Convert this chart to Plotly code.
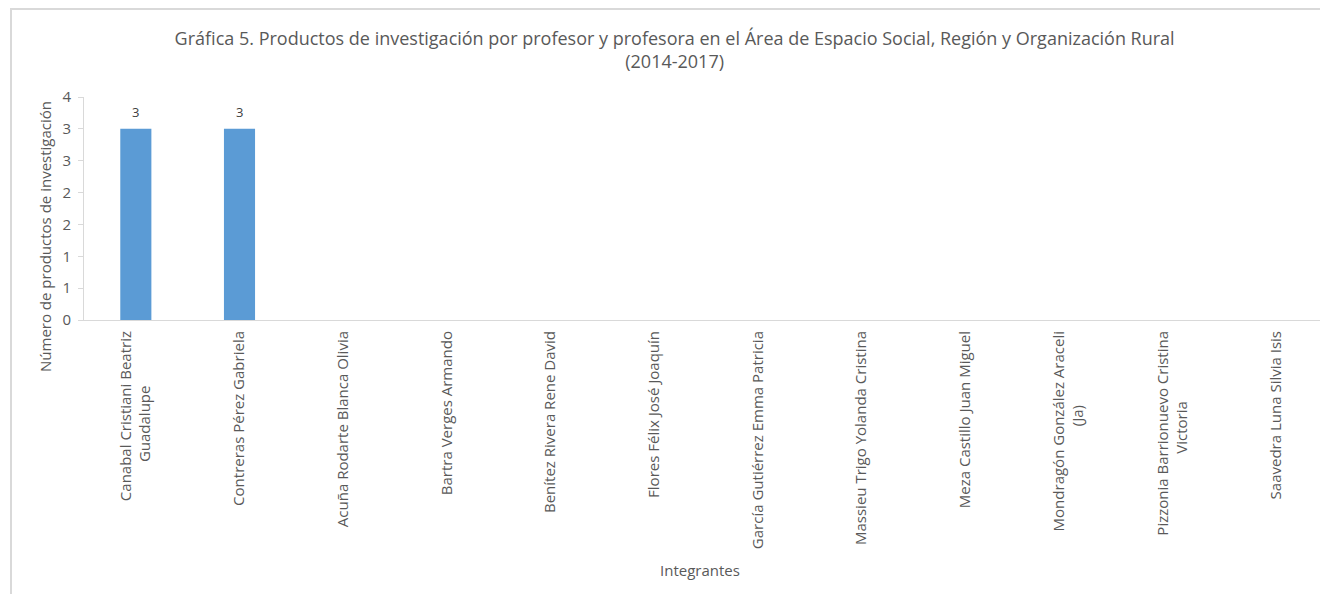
import plotly.graph_objects as go

# Datos
integrantes = [
    "Canabal Cristiani Beatriz<br>Guadalupe",
    "Contreras Pérez Gabriela",
    "Acuña Rodarte Blanca Olivia",
    "Bartra Verges Armando",
    "Benítez Rivera Rene David",
    "Flores Félix José Joaquín",
    "García Gutiérrez Emma Patricia",
    "Massieu Trigo Yolanda Cristina",
    "Meza Castillo Juan Miguel",
    "Mondragón González Araceli<br>(Ja)",
    "Pizzonia Barrionuevo Cristina<br>Victoria",
    "Saavedra Luna Silvia Isis",
]
productos = [3, 3, 0, 0, 0, 0, 0, 0, 0, 0, 0, 0]

# eje y de Excel: pasos de 0.5 con formato entero
y_ticks = [0, 0.5, 1, 1.5, 2, 2.5, 3, 3.5]
y_labels = ["0", "1", "1", "2", "2", "3", "3", "4"]

gris = "#595959"
fuente = "Open Sans"

# la página tiene 8px de margen en el body, se compensa aquí
L, T, PW, PH = 76, 89, 1244, 223


def centrar(nombre):
    # Excel centra la segunda línea de la etiqueta; plotly la alinea al final
    partes = nombre.split("<br>")
    if len(partes) < 2:
        return nombre
    relleno = "\u00a0" * round(0.85 * (len(partes[0]) - len(partes[1])))
    return partes[0] + "<br>" + partes[1] + relleno


fig = go.Figure()
fig.add_trace(go.Bar(
    x=integrantes,
    y=productos,
    marker=dict(color="#5b9bd5", line=dict(width=0)),
))

# etiquetas de datos (solo las barras con valor)
for nombre, valor in zip(integrantes, productos):
    if valor > 0:
        fig.add_annotation(
            x=nombre, y=valor, text=str(valor), showarrow=False,
            yanchor="middle", yshift=17,
            font=dict(family=fuente, size=13, color="#404040"),
        )

fig.update_layout(
    width=1328, height=594,
    paper_bgcolor="white", plot_bgcolor="white",
    showlegend=False,
    bargap=0.7,
    margin=dict(l=L, r=1328 - L - PW, t=T, b=594 - T - PH),
    font=dict(family=fuente, size=14, color=gris),
    title=dict(
        text="Gráfica 5. Productos de investigación por profesor y profesora en el Área de Espacio Social, Región y Organización Rural<br>(2014-2017)",
        x=0.502, xanchor="center", y=0.938, yanchor="top",
        font=dict(family=fuente, size=18, color=gris),
    ),
)

fig.update_xaxes(
    tickangle=-90,
    tickvals=integrantes, ticktext=[centrar(n) for n in integrantes],
    tickfont=dict(family=fuente, size=15, color=gris),
    ticklabelstandoff=4,
    showline=True, linecolor="#d9d9d9", linewidth=1,
    ticks="", showgrid=False,
)
fig.update_yaxes(
    range=[0, 3.5],
    tickvals=y_ticks, ticktext=y_labels,
    tickfont=dict(family=fuente, size=15, color=gris),
    showline=True, linecolor="#d9d9d9", linewidth=1,
    ticks="outside", ticklen=5, tickcolor="#d9d9d9",
    ticklabelstandoff=4,
    showgrid=False, zeroline=False,
)

# títulos de los ejes, colocados como en Excel
fig.add_annotation(
    text="Integrantes", xref="paper", yref="paper",
    x=(700 - 8 - L) / PW, y=(T + PH - 562) / PH,
    xanchor="center", yanchor="middle", showarrow=False,
    font=dict(family=fuente, size=15, color=gris),
)
fig.add_annotation(
    text="Número de productos de investigación", xref="paper", yref="paper",
    x=(37 - L) / PW, y=(T + PH - 229) / PH, textangle=-90,
    xanchor="center", yanchor="middle", showarrow=False,
    font=dict(family=fuente, size=15, color=gris),
)

# marco gris del gráfico
fig.add_shape(
    type="rect", xref="paper", yref="paper",
    x0=(3 - L) / PW, x1=(1319 - L) / PW,
    y0=-2.0, y1=(T + PH - 1) / PH,
    line=dict(color="#d9d9d9", width=2), fillcolor="rgba(0,0,0,0)", layer="below",
)

fig.write_html("out.html")
